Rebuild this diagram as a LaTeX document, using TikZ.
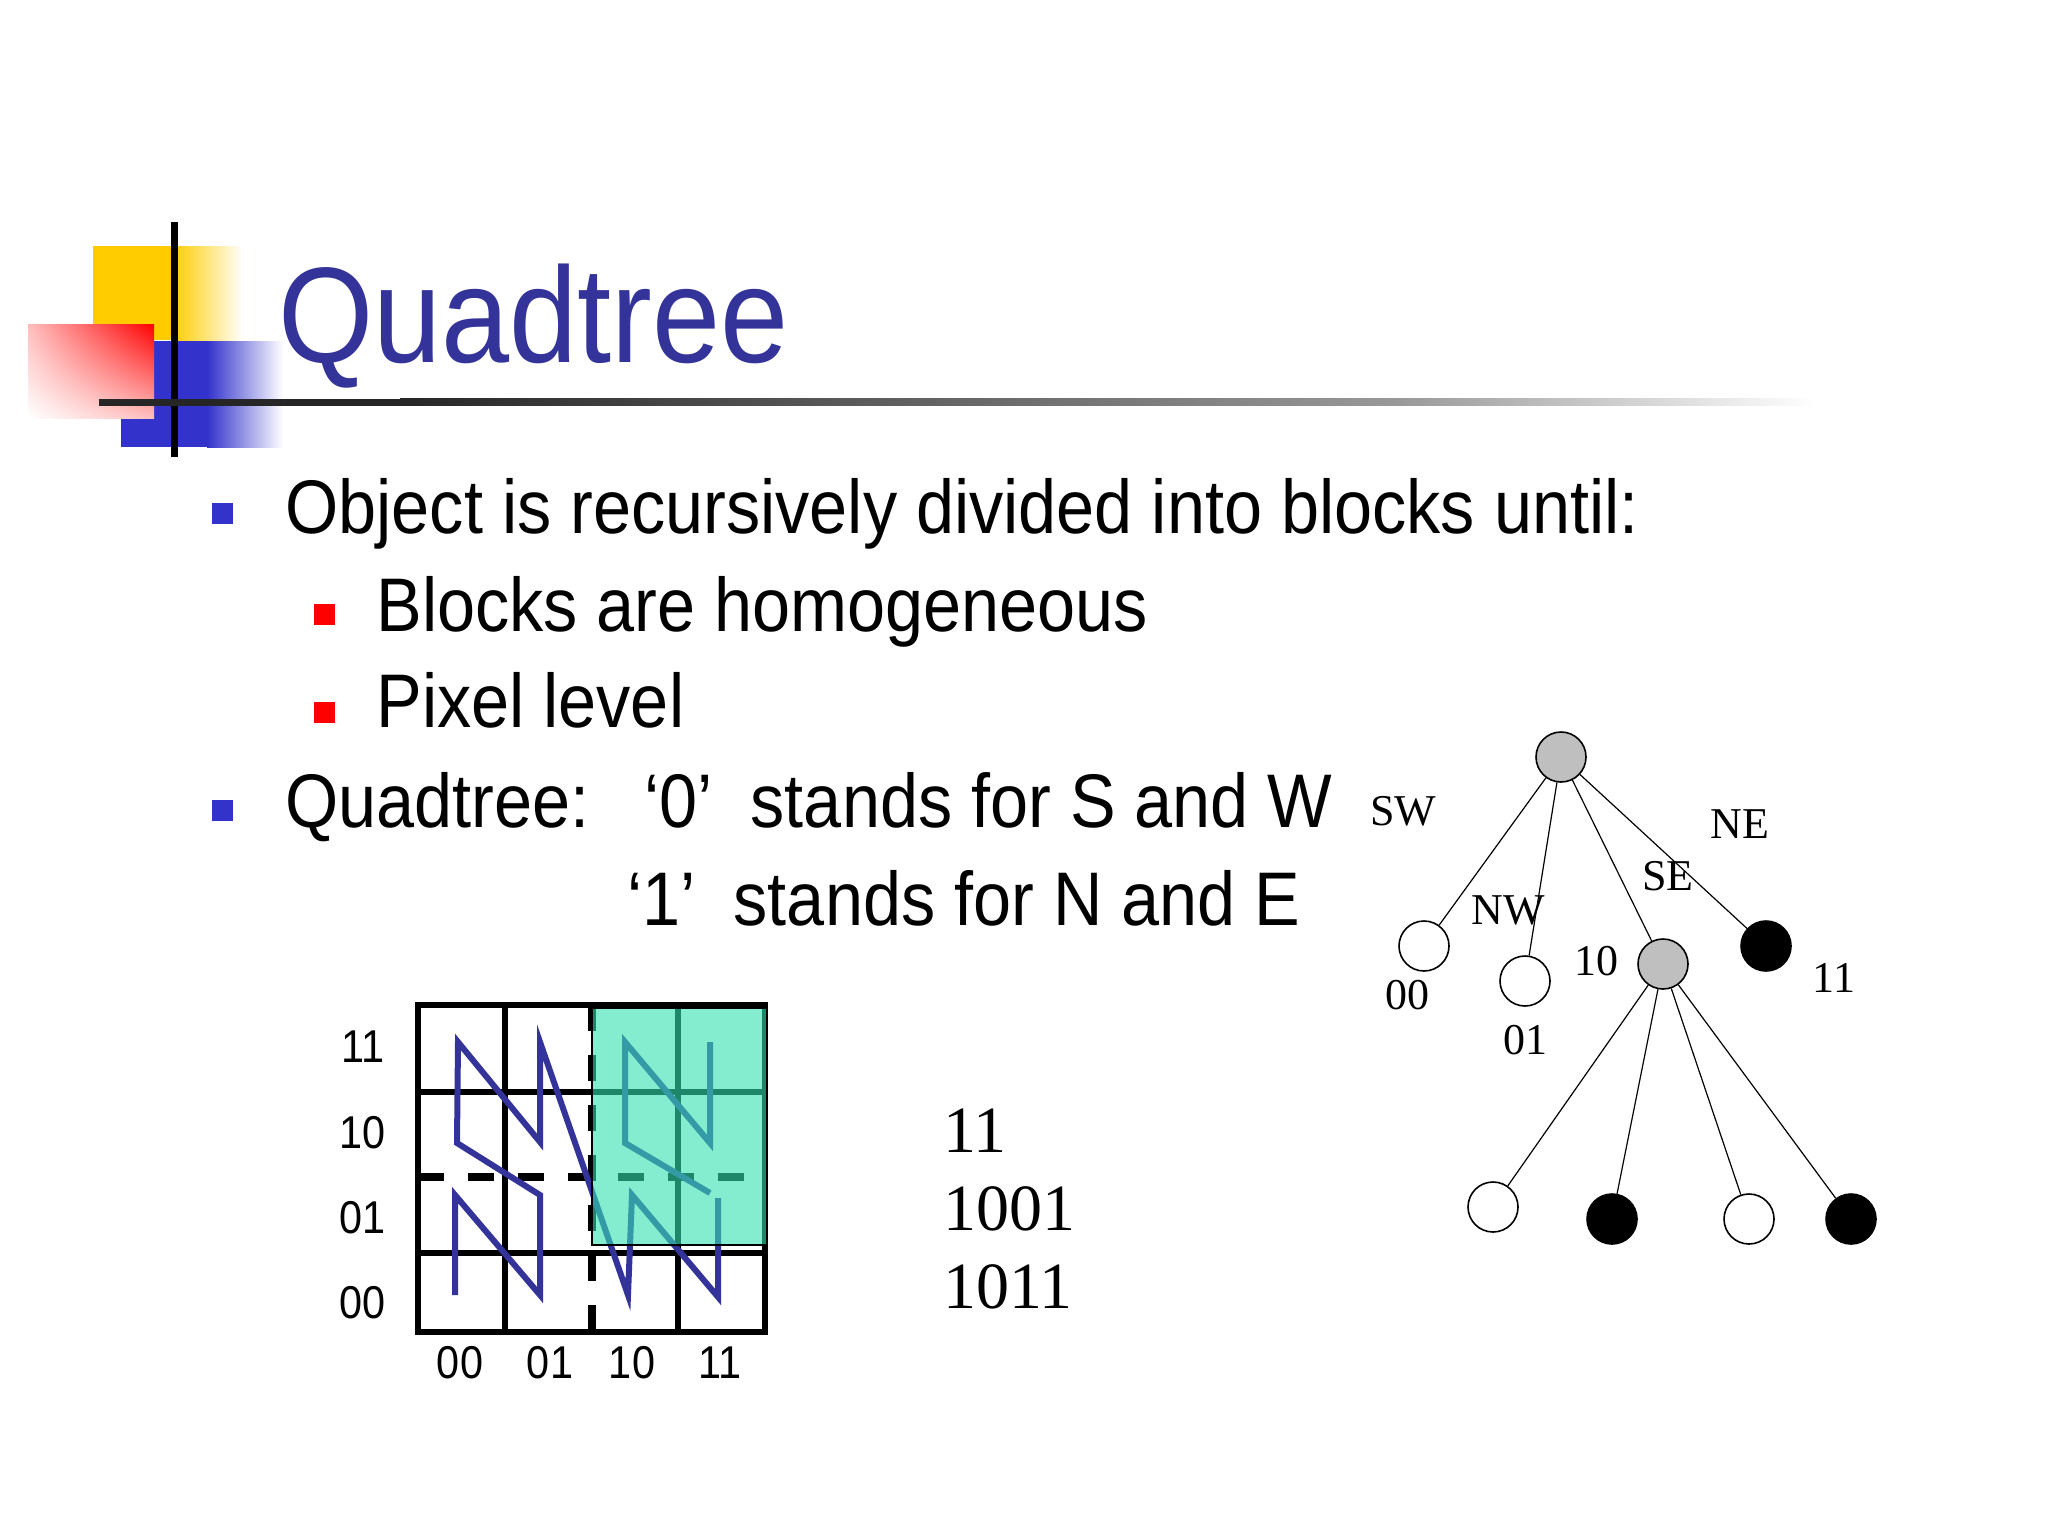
\documentclass[tikz,border=0pt]{standalone}
\usepackage{fontspec}
\setmainfont[FakeStretch=0.9]{Liberation Sans}
\newfontfamily\serifx{Liberation Serif}
\usetikzlibrary{fadings,shadings}
\definecolor{ttl}{HTML}{333399}
\definecolor{zblue}{HTML}{333399}
\definecolor{bblue}{HTML}{3333CC}
\definecolor{aqua}{HTML}{33E0B0}
\definecolor{ylw}{HTML}{FFCC00}
\definecolor{pinkx}{HTML}{FFBEBE}
\begin{document}
\begin{tikzpicture}[x=0.5pt,y=-0.5pt,
  txt/.style={anchor=base west,inner sep=0pt,font=\fontsize{38}{44}\selectfont},
  ser/.style={inner sep=0pt,font=\serifx\fontsize{22}{26}\selectfont},
  lab/.style={inner sep=0pt,font=\fontsize{23}{26}\selectfont},
  big/.style={anchor=base west,inner sep=0pt,font=\serifx\fontsize{33}{40}\selectfont},
  tn/.style={circle,draw=black,line width=0.8pt,minimum size=25pt,inner sep=0pt},
  edge/.style={line width=0.6pt}]
\useasboundingbox (0,0) rectangle (2048,1536);
\fill[white] (0,0) rectangle (2048,1536);
% logo
\fill[ylw] (93,246) rectangle (173,340);
\shade[left color=ylw, right color=white] (173,246) rectangle (243,340);
\fill[bblue] (121,341) rectangle (207,447);
\shade[left color=bblue, right color=white] (207,341) rectangle (283,447);
\shade[upper right=red, lower left=white, upper left=pinkx, lower right=pinkx] (28,324) rectangle (154,418);
\draw[line width=3.5pt] (174,222) -- (174,457);
\fill[black!85] (99,398.5) rectangle (400,405.5);
\shade[left color=black!85, right color=black!40] (400,398.5) rectangle (1400,405.5);
\shade[left color=black!40, right color=white] (1400,398.5) rectangle (1815,405.5);
% title
\node[anchor=base west,inner sep=0pt,text=ttl,font=\fontsize{68}{72}\selectfont] (title) at (278,362) {Quadtree};
% bullets
\fill[bblue] (212,503) rectangle (233,524);
\fill[red] (314,604) rectangle (335,625);
\fill[red] (314,702) rectangle (335,723);
\fill[bblue] (212,800) rectangle (233,821);
\node[txt] (t1) at (285,533) {Object is recursively divided into blocks until:};
\node[txt] (t2) at (376,631) {Blocks are homogeneous};
\node[txt] (t3) at (376,727) {Pixel level};
\node[txt] (t4) at (285,827) {Quadtree:};
\node[txt] (t5) at (644,827) {‘0’\ \ stands for S and W};
\node[txt] (t6) at (627,925) {‘1’\ \ stands for N and E};
% grid
\draw[line width=3.2pt] (418,1005) rectangle (765,1332);
\draw[line width=2.6pt] (505,1005) -- (505,1332) (678,1005) -- (678,1332);
\draw[line width=2.6pt] (418,1092) -- (765,1092) (418,1253) -- (765,1253);
\draw[line width=3.6pt,dash pattern=on 13pt off 12pt] (592,1005) -- (592,1332);
\draw[line width=3.6pt,dash pattern=on 13pt off 12pt] (418,1177) -- (765,1177);
\draw[zblue,line width=3pt] (455,1295) -- (455,1195) -- (540,1295) -- (540,1195) -- (457,1143) -- (458,1042) -- (540,1142) -- (540,1042) -- (628,1295) -- (632,1195) -- (718,1297) -- (718,1198);
\draw[zblue,line width=3pt] (710,1193) -- (625,1143) -- (625,1042) -- (710,1143) -- (710,1042);
\fill[aqua,opacity=0.6] (592,1008) rectangle (767,1245);
\draw[line width=0.6pt] (592,1008) rectangle (767,1245);
\foreach \t/\y in {11/1047,10/1133,01/1218,00/1303} \node[lab] (r\t) at (363,\y) {\t};
\foreach \t/\x in {00/460,01/550,10/632,11/720} \node[lab] (c\t) at (\x,1363) {\t};
\node[big] (n1) at (943,1152) {11};
\node[big] (n2) at (943,1230) {1001};
\node[big] (n3) at (943,1308) {1011};
% tree
\node[tn,fill=black!25] (root) at (1561,757) {};
\node[tn,fill=white] (a) at (1424,946) {};
\node[tn,fill=white] (b) at (1525,981) {};
\node[tn,fill=black!25] (c) at (1663,964) {};
\node[tn,fill=black] (d) at (1766,946) {};
\node[tn,fill=white] (e) at (1493,1207) {};
\node[tn,fill=black] (f) at (1612,1219) {};
\node[tn,fill=white] (g) at (1749,1219) {};
\node[tn,fill=black] (h) at (1851,1219) {};
\foreach \n in {a,b,c,d} \draw[edge] (root) -- (\n);
\foreach \n in {e,f,g,h} \draw[edge] (c) -- (\n);
\node[ser] (lsw) at (1403,811) {SW};
\node[ser] (lnw) at (1508,910) {NW};
\node[ser] (lse) at (1668,876) {SE};
\node[ser] (lne) at (1740,824) {NE};
\node[ser] (l10) at (1596,961) {10};
\node[ser] (l00) at (1407,995) {00};
\node[ser] (l01) at (1525,1040) {01};
\node[ser] (l11) at (1834,978) {11};
\end{tikzpicture}
\end{document}
